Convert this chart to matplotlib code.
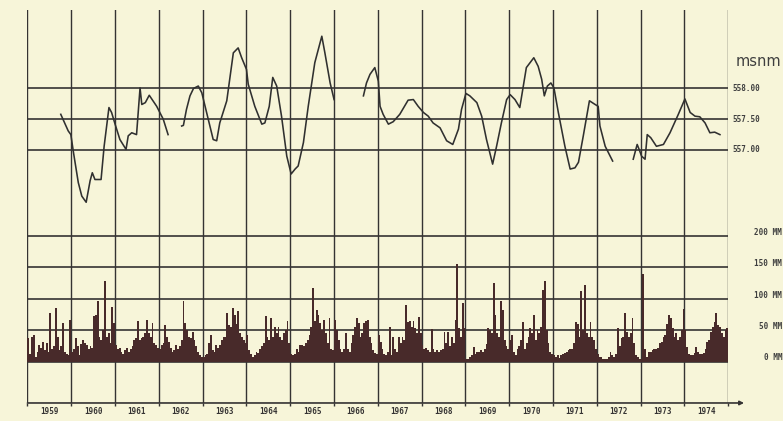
import numpy as np
import matplotlib.pyplot as plt
from matplotlib.transforms import blended_transform_factory

# Lake level (msnm); NaN = gap in the record
lake_t = [1959.76, 1959.93, 1959.99, 1960.05, 1960.16, 1960.24, 1960.34, 1960.43, 1960.48, 1960.54,
          1960.68, 1960.75, 1960.86, 1960.92, 1961.00, 1961.11, 1961.25, 1961.30, 1961.38, 1961.49,
          1961.57, 1961.61, 1961.69, 1961.78, 1961.95, 1962.10, 1962.21, np.nan,
          1962.52, 1962.56, 1962.63, 1962.71, 1962.79, 1962.90, 1962.98, 1963.09, 1963.24, 1963.32,
          1963.39, 1963.55, 1963.70, 1963.81, 1963.89, 1964.00, 1964.04, 1964.19, 1964.35, 1964.42,
          1964.52, 1964.60, 1964.69, 1964.80, 1964.92, 1965.02, 1965.11, 1965.18, 1965.30, 1965.41,
          1965.56, 1965.72, 1965.79, 1965.91, 1966.00, np.nan,
          1966.67, 1966.74, 1966.82, 1966.93, 1967.01, 1967.05, 1967.12, 1967.24, 1967.35, 1967.50,
          1967.69, 1967.81, 1967.92, 1968.04, 1968.15, 1968.26, 1968.42, 1968.57, 1968.71, 1968.84,
          1968.91, 1969.01, 1969.10, 1969.26, 1969.37, 1969.48, 1969.62, 1969.71, 1969.82, 1969.94,
          1970.02, 1970.13, 1970.24, 1970.39, 1970.56, 1970.66, 1970.74, 1970.80, 1970.87, 1970.95,
          1971.02, 1971.12, 1971.27, 1971.39, 1971.50, 1971.58, 1971.69, 1971.83, 1971.96, 1972.03,
          1972.07, 1972.19, 1972.26, 1972.36, np.nan,
          1972.83, 1972.92, 1972.97, 1973.02, 1973.10, 1973.15, 1973.23, 1973.36, 1973.52, 1973.67,
          1973.86, 1974.01, 1974.13, 1974.24, 1974.35, 1974.47, 1974.58, 1974.69, 1974.81]
lake_h = [557.58, 557.31, 557.25, 556.96, 556.47, 556.25, 556.15, 556.50, 556.63, 556.52,
          556.52, 557.06, 557.69, 557.61, 557.42, 557.17, 557.01, 557.23, 557.28, 557.25,
          558.01, 557.74, 557.77, 557.89, 557.71, 557.50, 557.25, np.nan,
          557.39, 557.40, 557.66, 557.88, 558.00, 558.04, 557.93, 557.61, 557.17, 557.15,
          557.44, 557.80, 558.58, 558.66, 558.50, 558.31, 558.07, 557.71, 557.42, 557.44,
          557.71, 558.18, 558.04, 557.55, 556.90, 556.61, 556.69, 556.74, 557.12, 557.71,
          558.42, 558.85, 558.58, 558.09, 557.82, np.nan,
          557.88, 558.09, 558.23, 558.34, 558.12, 557.71, 557.58, 557.42, 557.46, 557.58,
          557.81, 557.82, 557.71, 557.61, 557.55, 557.44, 557.36, 557.15, 557.09, 557.34,
          557.66, 557.92, 557.88, 557.77, 557.55, 557.17, 556.77, 557.06, 557.44, 557.82,
          557.90, 557.82, 557.69, 558.34, 558.50, 558.36, 558.15, 557.88, 558.04, 558.09,
          558.01, 557.61, 557.06, 556.69, 556.71, 556.80, 557.23, 557.80, 557.74, 557.71,
          557.39, 557.06, 556.96, 556.82, np.nan,
          556.85, 557.09, 557.00, 556.90, 556.85, 557.25, 557.20, 557.06, 557.09, 557.28,
          557.58, 557.83, 557.61, 557.55, 557.54, 557.44, 557.28, 557.29, 557.25]

# Precipitation (mm), 24 half-month values per year
rain = {
    1959: [37, 12, 40, 42, 8, 15, 27, 22, 32, 18, 30, 15, 77, 20, 25, 85, 40, 18, 25, 61, 15, 12, 10, 66],
    1960: [15, 20, 37, 25, 10, 28, 35, 30, 27, 20, 25, 22, 72, 74, 96, 40, 35, 50, 128, 40, 45, 30, 87, 61],
    1961: [27, 20, 21, 15, 12, 18, 22, 15, 20, 25, 35, 37, 64, 35, 38, 40, 45, 66, 45, 40, 61, 30, 27, 22],
    1962: [20, 27, 30, 58, 40, 32, 22, 15, 18, 27, 20, 25, 35, 96, 61, 50, 40, 38, 48, 35, 25, 15, 10, 8],
    1963: [8, 10, 13, 30, 42, 18, 15, 27, 22, 27, 35, 40, 40, 77, 58, 55, 85, 74, 60, 80, 45, 40, 35, 30],
    1964: [42, 18, 12, 8, 10, 16, 14, 20, 25, 29, 73, 40, 35, 69, 40, 56, 45, 56, 40, 35, 45, 50, 64, 30],
    1965: [13, 10, 12, 20, 15, 27, 27, 25, 30, 35, 42, 56, 117, 64, 82, 74, 61, 50, 66, 45, 30, 69, 20, 18],
    1966: [66, 50, 35, 20, 15, 20, 45, 20, 15, 30, 42, 56, 69, 61, 40, 45, 61, 64, 66, 40, 30, 18, 14, 12],
    1967: [42, 31, 20, 12, 10, 15, 55, 10, 39, 20, 15, 39, 30, 40, 35, 90, 63, 64, 55, 64, 53, 45, 71, 45],
    1968: [26, 20, 22, 18, 15, 52, 20, 15, 18, 15, 18, 20, 47, 30, 47, 25, 40, 30, 66, 155, 53, 40, 93, 53],
    1969: [4, 5, 8, 10, 23, 12, 15, 15, 18, 15, 20, 28, 53, 50, 45, 125, 74, 45, 40, 96, 82, 34, 25, 20],
    1970: [34, 42, 15, 10, 20, 25, 35, 63, 20, 30, 40, 53, 45, 75, 35, 50, 45, 55, 114, 128, 50, 30, 15, 12],
    1971: [10, 8, 10, 6, 10, 12, 14, 15, 18, 20, 20, 30, 63, 60, 40, 112, 50, 122, 45, 40, 63, 40, 34, 20],
    1972: [12, 8, 7, 4, 4, 5, 8, 15, 10, 8, 12, 53, 25, 37, 40, 78, 47, 40, 45, 69, 30, 10, 8, 5],
    1973: [5, 140, 20, 8, 15, 16, 18, 20, 20, 22, 30, 31, 40, 42, 60, 75, 69, 53, 40, 45, 35, 40, 50, 84],
    1974: [50, 23, 12, 10, 10, 14, 23, 15, 12, 12, 14, 20, 31, 35, 47, 55, 63, 77, 58, 55, 45, 40, 50, 53],
}

years = list(range(1959, 1975))
level_ticks = [557.0, 557.5, 558.0]
level_labels = ["557.00", "557.50", "558.00"]
rain_ticks = [0, 50, 100, 150, 200]
rain_labels = ["0 MM", "50 MM", "100 MM", "150 MM", "200 MM"]

bg = "#f7f5d9"
ink = "#353333"

fig = plt.figure(figsize=(7.83, 4.21), dpi=100, facecolor=bg)
ax = fig.add_axes([0.0351, 0.0428, 0.8950, 0.9334])
ax.set_facecolor(bg)
ax2 = ax.twinx()

# precipitation bars
rain_x = []
rain_v = []
for yr in years:
    for i, v in enumerate(rain[yr]):
        rain_x.append(yr + (i + 0.5) / 24)
        rain_v.append(v)
ax.bar(rain_x, rain_v, width=1 / 24, color="#482a2a", linewidth=0, zorder=3)

for v in rain_ticks:
    ax.axhline(v, color=ink, lw=1.2, zorder=2)
for yr in years + [1975]:
    ax.axvline(yr, color=ink, lw=1.0, zorder=2)
for v in level_ticks:
    ax2.axhline(v, color=ink, lw=1.2, zorder=2)

ax2.plot(lake_t, lake_h, color="#303030", lw=1.15, zorder=4)

ax.set_xlim(1959, 1975)
ax.set_ylim(-65.7, 559.6)
ax2.set_ylim(552.886, 559.276)

for a in (ax, ax2):
    for s in a.spines.values():
        s.set_visible(False)
    a.set_yticks([])

# bottom time axis with arrow
ax.annotate("", xy=(1975.36, 0), xytext=(1959, 0),
            xycoords=("data", "axes fraction"), textcoords=("data", "axes fraction"),
            arrowprops=dict(arrowstyle="-|>", color=ink, lw=1.2, mutation_scale=6,
                            shrinkA=0, shrinkB=0), annotation_clip=False)

ax.set_xticks([y + 0.5 for y in years])
ax.set_xticklabels([str(y) for y in years], fontsize=5.5, fontweight="bold",
                   family="DejaVu Sans Mono", color=ink)
ax.tick_params(axis="x", which="major", length=0, pad=3)
ax.set_xticks(years + [1975], minor=True)
ax.tick_params(axis="x", which="minor", length=2.5, width=1.0, color=ink, direction="out")

tr_rain = blended_transform_factory(fig.transFigure, ax.transData)
for v, lab in zip(rain_ticks, rain_labels):
    ax.text(0.999, v + 6, lab, transform=tr_rain, ha="right", va="center",
            fontsize=5.5, family="DejaVu Sans Mono", fontweight="bold", color="#3f3f3f")

tr_lake = blended_transform_factory(fig.transFigure, ax2.transData)
for v, lab in zip(level_ticks, level_labels):
    ax2.text(0.936, v, lab, transform=tr_lake, ha="left", va="center",
             fontsize=5.5, family="DejaVu Sans Mono", fontweight="bold", color="#3f3f3f")
fig.text(0.968, 0.853, "msnm", ha="center", va="center", fontsize=10.5, color="#3f3f3f")

fig.savefig("out.png", dpi=100, facecolor=bg)
